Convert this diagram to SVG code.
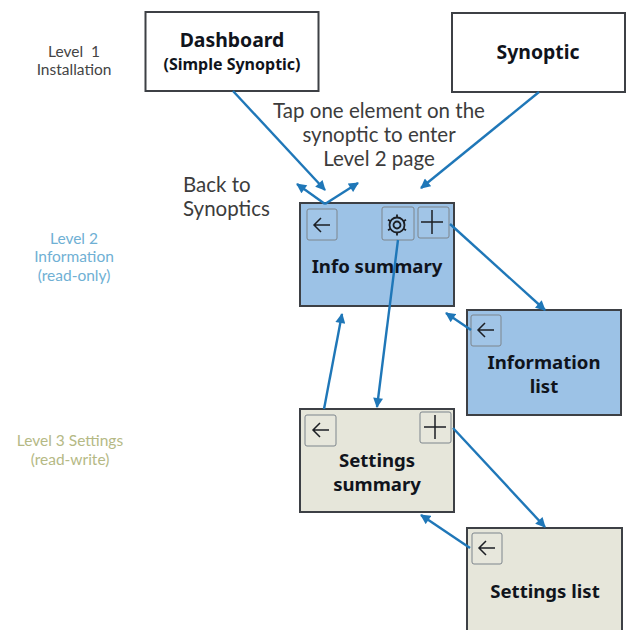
<svg xmlns="http://www.w3.org/2000/svg" width="628" height="630" viewBox="0 0 628 630">
<style>
text{font-family:"Lato","Noto Sans","Liberation Sans",sans-serif;text-anchor:middle}
.box{stroke:#3d4045;stroke-width:2}
.t{font-family:"Noto Sans","Liberation Sans",sans-serif;font-weight:700;font-size:18.600px;fill:#10141c}
.s{font-size:20.500px;fill:#3c3c3c}
.l{font-size:15.500px}
.btn{fill-opacity:.06;fill:#fff;stroke:#7d858c;stroke-width:1}
.ic{fill:none;stroke:#1c1f24;stroke-width:1.500}
.c{stroke:#1f77b8;stroke-width:2.400;fill:none}
</style>
<defs>
<marker id="a" viewBox="0 0 10 10" refX="9" refY="5" markerWidth="11" markerHeight="10" markerUnits="userSpaceOnUse" orient="auto-start-reverse"><path d="M0 0L10 5L0 10Z" fill="#1f77b8"/></marker>
<path id="back" d="M-8 0H8M-1 -7L-8 0L-1 7" class="ic"/>
<path id="plus" d="M-11 0H11M0 -12V12" class="ic"/>
</defs>
<text class="l" x="74" y="57" fill="#444">Level &#160;1</text>
<text class="l" x="74" y="75" fill="#444">Installation</text>
<text class="l" x="74" y="244" fill="#6fb0d4">Level 2</text>
<text class="l" x="74" y="262" fill="#6fb0d4">Information</text>
<text class="l" x="74" y="281" fill="#6fb0d4">(read-only)</text>
<text class="l" x="70" y="446" fill="#b5b985">Level 3 Settings</text>
<text class="l" x="70" y="465" fill="#b5b985">(read-write)</text>
<text class="s" x="379" y="118">Tap one element on the</text>
<text class="s" x="379" y="142">synoptic to enter</text>
<text class="s" x="379" y="166">Level 2 page</text>
<text class="s" x="183" y="192" style="text-anchor:start">Back to</text>
<text class="s" x="183" y="216" style="text-anchor:start">Synoptics</text>
<g id="dashboard"><rect class="box" x="145.500" y="12" width="173" height="79" fill="#fff"/><text class="t" x="232" y="46.500" style="font-size:19.400px">Dashboard</text><text class="t" x="232" y="70" style="font-size:16px">(Simple Synoptic)</text></g>
<g id="synoptic"><rect class="box" x="452" y="13" width="173" height="79" fill="#fff"/><text class="t" x="538" y="59" style="font-size:19.400px">Synoptic</text></g>
<g id="info-summary"><rect class="box" x="300" y="203" width="154" height="103" fill="#9cc2e6"/>
<rect class="btn" x="307" y="209" width="30" height="31" rx="2"/><use href="#back" x="322" y="225"/>
<rect class="btn" x="382" y="207" width="32" height="33" rx="2"/><g class="ic" style="stroke-width:1.800" transform="translate(397 225)"><circle r="3.500"/><circle r="7.500"/><path d="M0 -10.500V-7.500M0 7.500V10.500M-9 -5.200L-6.500 -3.700M6.500 3.700L9 5.200M-9 5.200L-6.500 3.700M6.500 -3.700L9 -5.200"/></g>
<rect class="btn" x="418" y="207" width="31" height="31" rx="2"/><use href="#plus" x="432" y="222"/>
<text class="t" x="377" y="273">Info summary</text></g>
<g id="information-list"><rect class="box" x="467" y="310" width="154" height="105" fill="#9cc2e6"/>
<rect class="btn" x="471" y="315" width="30" height="31" rx="2"/><use href="#back" x="486" y="330"/>
<text class="t" x="544" y="369">Information</text><text class="t" x="544" y="393">list</text></g>
<g id="settings-summary"><rect class="box" x="300" y="409" width="154" height="103" fill="#e6e6da"/>
<rect class="btn" x="305" y="415" width="31" height="31" rx="2"/><use href="#back" x="321" y="430"/>
<rect class="btn" x="420" y="412" width="31" height="31" rx="2"/><use href="#plus" x="435" y="427"/>
<text class="t" x="377" y="467">Settings</text><text class="t" x="377" y="491">summary</text></g>
<g id="settings-list"><rect class="box" x="467" y="528" width="155" height="104" fill="#e6e6da"/>
<rect class="btn" x="472" y="533" width="30" height="31" rx="2"/><use href="#back" x="487" y="548"/>
<text class="t" x="545" y="598">Settings list</text></g>
<g id="connectors" class="c">
<path d="M233 91L325 190" marker-end="url(#a)"/>
<path d="M539 92L421 188" marker-end="url(#a)"/>
<path d="M325 204L297 184" marker-end="url(#a)"/>
<path d="M325 204L358 183" marker-end="url(#a)"/>
<path d="M450 224L545 310" marker-end="url(#a)"/>
<path d="M398 240L377 407" marker-end="url(#a)"/>
<path d="M324 409L342 314" marker-end="url(#a)"/>
<path d="M471 330L446 313" marker-end="url(#a)"/>
<path d="M453 428L545 527" marker-end="url(#a)"/>
<path d="M470 548L421 515" marker-end="url(#a)"/>
</g>
</svg>
